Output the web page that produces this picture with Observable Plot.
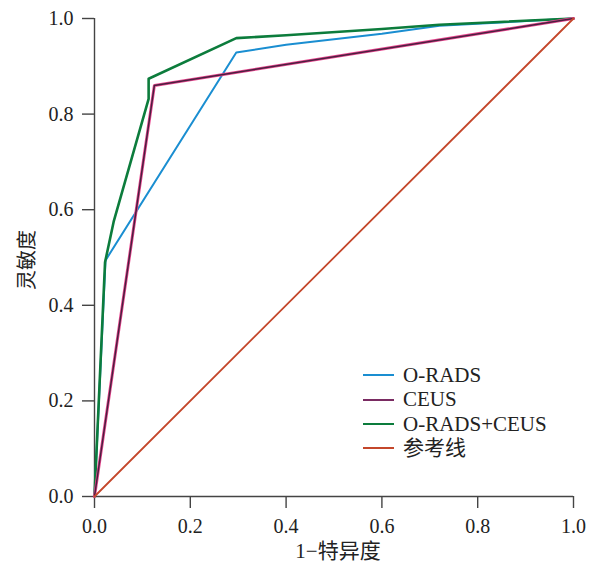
<!DOCTYPE html>
<html><head><meta charset="utf-8">
<script src="https://cdn.jsdelivr.net/npm/d3@7"></script>
<script src="https://cdn.jsdelivr.net/npm/@observablehq/plot@0.6"></script>
<style>
body{margin:0;background:#fff;}
#wrap{position:relative;width:595px;height:563px;font-family:"Liberation Serif","Noto Sans CJK SC",serif;}
#legend{position:absolute;left:363px;top:363px;font-size:21px;color:#222;line-height:24.4px;}
#legend div{display:flex;align-items:center;height:24.4px;}
#legend span.sw{display:inline-block;width:31px;height:0;margin-right:9px;}
</style></head>
<body><div id="wrap"></div>
<script>
const xTicks = [0, 0.2, 0.4, 0.6, 0.8, 1.0];
const yTicks = [0, 0.2, 0.4, 0.6, 0.8, 1.0];
const seriesNames = ["O-RADS", "CEUS", "O-RADS+CEUS", "参考线"];
const seriesColors = ["#1a8ed1", "#7a2b62", "#0c7c3c", "#c4472b"];
const oradsX = [0, 0.023, 0.296, 0.40, 0.60, 0.72, 1];
const oradsY = [0, 0.494, 0.929, 0.945, 0.968, 0.985, 1];
const ceusX = [0, 0.125, 1];
const ceusY = [0, 0.86, 1];
const comboX = [0, 0.022, 0.04, 0.113, 0.113, 0.296, 0.40, 0.60, 0.72, 1];
const comboY = [0, 0.49, 0.575, 0.832, 0.874, 0.959, 0.965, 0.978, 0.987, 1];
const refX = [0, 1];
const refY = [0, 1];

const toRows = (xs, ys) => xs.map((x, i) => ({x, y: ys[i]}));
const orads = toRows(oradsX, oradsY);
const ceus = toRows(ceusX, ceusY);
const combo = toRows(comboX, comboY);
const ref = toRows(refX, refY);

const fontFam = '"Liberation Serif","Noto Sans CJK SC",serif';
const fmt = d3.format(".1f");
const chart = Plot.plot({
  width: 595, height: 563,
  marginLeft: 94, marginRight: 22, marginTop: 18, marginBottom: 67,
  style: {fontFamily: fontFam, fontSize: "20px", color: "#222", background: "#fff", overflow: "visible"},
  x: {domain: [0, 1], label: null},
  y: {domain: [0, 1], label: null},
  marks: [
    Plot.axisX({ticks: xTicks, tickFormat: fmt, tickSize: 12, tickPadding: 10, stroke: "#444", strokeWidth: 1.4, fontSize: 20, label: null}),
    Plot.axisY({ticks: yTicks, tickFormat: fmt, tickSize: 12, tickPadding: 9, stroke: "#444", strokeWidth: 1.4, fontSize: 20, label: null}),
    Plot.ruleX([0], {stroke: "#444", strokeWidth: 1.4}),
    Plot.ruleY([0], {stroke: "#444", strokeWidth: 1.4}),
    Plot.line(orads, {x: "x", y: "y", stroke: seriesColors[0], strokeWidth: 2}),
    Plot.line(combo, {x: "x", y: "y", stroke: seriesColors[2], strokeWidth: 2.6}),
    Plot.line(ceus, {x: "x", y: "y", stroke: "#e8468e", strokeWidth: 3}),
    Plot.line(ceus, {x: "x", y: "y", stroke: "#4a2040", strokeWidth: 1.5}),
    Plot.line(ref, {x: "x", y: "y", stroke: seriesColors[3], strokeWidth: 1.8})
  ]
});
const wrap = document.getElementById("wrap");
wrap.appendChild(chart);
chart.style.position = "absolute"; chart.style.left = "0"; chart.style.top = "0";

const xt = document.createElement("div");
xt.textContent = "1−特异度";
Object.assign(xt.style, {position: "absolute", left: "0", width: "676px", top: "539px", textAlign: "center", fontSize: "21px", lineHeight: "24px", color: "#222"});
wrap.appendChild(xt);
const yt = document.createElement("div");
yt.textContent = "灵敏度";
Object.assign(yt.style, {position: "absolute", left: "25px", top: "260px", fontSize: "20px", color: "#222", transform: "translate(-50%,-50%) rotate(-90deg)", whiteSpace: "nowrap"});
wrap.appendChild(yt);

const lg = document.createElement("div");
lg.id = "legend";
seriesNames.forEach((n, i) => {
  const row = document.createElement("div");
  const sw = document.createElement("span");
  sw.className = "sw";
  sw.style.borderTop = `2.5px solid ${seriesColors[i]}`;
  row.appendChild(sw);
  row.appendChild(document.createTextNode(n));
  lg.appendChild(row);
});
wrap.appendChild(lg);
</script></body></html>
